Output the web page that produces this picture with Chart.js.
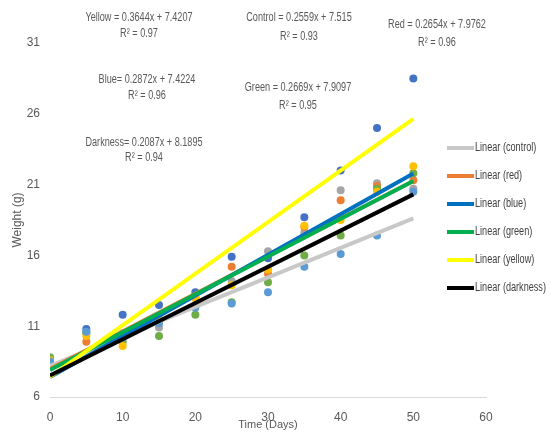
<!DOCTYPE html>
<html>
<head>
<meta charset="utf-8">
<script src="https://cdn.jsdelivr.net/npm/chart.js@4/dist/chart.umd.min.js"></script>
<style>
  html, body { margin: 0; padding: 0; background: #fff; }
  #wrap { width: 553px; height: 432px; }
</style>
</head>
<body>
<div id="wrap"><canvas id="chart" width="553" height="432"></canvas></div>
<script>
const days = [0, 5, 10, 15, 20, 25, 30, 35, 40, 45, 50];

const seriesNames = ['control', 'red', 'blue', 'green', 'yellow', 'darkness'];

const controlW  = [8.7, 10.6, 10.5, 10.9, 13.1, 14.2, 16.3, 17.6, 20.6, 21.1, 20.7];
const redW      = [8.5, 9.9, 10.2, 11.5, 13.0, 15.2, 14.7, 18.0, 19.9, 20.9, 21.3];
const blueW     = [8.6, 10.8, 11.8, 12.5, 13.4, 15.9, 15.8, 18.7, 22.0, 25.0, 28.5];
const greenW    = [8.8, 10.5, 9.9, 10.3, 11.8, 12.7, 14.1, 16.0, 17.4, 20.7, 21.8];
const yellowW   = [8.6, 10.3, 9.6, 11.4, 13.0, 13.9, 15.0, 18.1, 18.5, 20.5, 22.3];
const darknessW = [8.5, 10.6, 10.2, 11.2, 12.3, 12.6, 13.4, 15.2, 16.1, 17.4, 20.5];

// trendline values at day 0 and day 50, as drawn
const trendStart = [8.19, 7.98, 7.42, 7.91, 7.42, 7.52];
const trendEnd   = [18.62, 21.25, 21.78, 21.25, 25.64, 20.31];

const equations = [
  ['Yellow = 0.3644x + 7.4207', 'R\u00b2 = 0.97'],
  ['Control = 0.2559x + 7.515', 'R\u00b2 = 0.93'],
  ['Red = 0.2654x + 7.9762', 'R\u00b2 = 0.96'],
  ['Blue= 0.2872x + 7.4224', 'R\u00b2 = 0.96'],
  ['Green = 0.2669x + 7.9097', 'R\u00b2 = 0.95'],
  ['Darkness= 0.2087x + 8.1895', 'R\u00b2 = 0.94']
];

const pointColors = ['#A5A5A5', '#ED7D31', '#4472C4', '#70AD47', '#FFC000', '#5B9BD5'];
const lineColors  = ['#C8C8C8', '#ED7D31', '#0070C0', '#00B050', '#FFFF00', '#000000'];

const FONT = '"Liberation Sans", Arial, sans-serif';
const TEXT = '#595959';

const weights = [controlW, redW, blueW, greenW, yellowW, darknessW];

const datasets = [];
weights.forEach((w, i) => {
  datasets.push({
    type: 'scatter',
    label: seriesNames[i],
    data: days.map((d, j) => ({ x: d, y: w[j] })),
    backgroundColor: pointColors[i],
    borderWidth: 0,
    pointRadius: 4,
    order: 20 - i
  });
});
seriesNames.forEach((name, i) => {
  datasets.push({
    type: 'line',
    label: 'Linear (' + name + ')',
    data: [{ x: days[0], y: trendStart[i] }, { x: days[days.length - 1], y: trendEnd[i] }],
    borderColor: lineColors[i],
    borderWidth: 4,
    pointRadius: 0,
    fill: false,
    order: 6 - i,
    isTrend: true
  });
});

// narrow text, like the Calibri of the original
function narrowText(ctx, text, x, y) {
  ctx.save();
  ctx.translate(x, y);
  ctx.scale(0.76, 1);
  ctx.fillText(text, 0, 0);
  ctx.restore();
}

// equation labels and right-hand legend drawn over the canvas
const overlay = {
  id: 'overlay',
  afterDraw(chart) {
    const ctx = chart.ctx;
    ctx.save();
    ctx.fillStyle = TEXT;
    ctx.font = '12px ' + FONT;
    ctx.textAlign = 'center';
    ctx.textBaseline = 'middle';
    const spots = [[139, 18, 34], [299, 18, 37], [437, 25, 43], [147, 80, 96], [298, 88, 106], [144, 143, 158]];
    equations.forEach((eq, i) => {
      const s = spots[i];
      narrowText(ctx, eq[0], s[0], s[1]);
      narrowText(ctx, eq[1], s[0], s[2]);
    });

    const trends = chart.data.datasets.filter(d => d.isTrend);
    ctx.textAlign = 'left';
    trends.forEach((d, i) => {
      const y = 148 + i * 28;
      ctx.strokeStyle = d.borderColor;
      ctx.lineWidth = 4;
      ctx.beginPath();
      ctx.moveTo(447, y);
      ctx.lineTo(474, y);
      ctx.stroke();
      ctx.fillStyle = '#404040';
      narrowText(ctx, d.label, 475, y);
    });
    ctx.restore();
  }
};

new Chart(document.getElementById('chart'), {
  type: 'scatter',
  data: { datasets },
  options: {
    responsive: false,
    animation: false,
    layout: { padding: { left: 8, right: 67, top: 43, bottom: 0 } },
    plugins: {
      legend: { display: false },
      tooltip: { enabled: false }
    },
    scales: {
      x: {
        type: 'linear',
        min: 0,
        max: 60,
        ticks: { stepSize: 10, color: TEXT, font: { family: FONT, size: 12 }, padding: 5 },
        grid: { display: false },
        border: { display: true, color: '#D9D9D9', width: 1 },
        title: { display: true, text: 'Time (Days)', color: TEXT, font: { family: FONT, size: 11 }, padding: 0 },
        afterFit: (scale) => { scale.height = 35; }
      },
      y: {
        min: 6,
        max: 31,
        ticks: { stepSize: 5, color: TEXT, font: { family: FONT, size: 12 }, padding: 10 },
        grid: { display: false, drawTicks: false },
        border: { display: false },
        title: { display: true, text: 'Weight (g)', color: TEXT, font: { family: FONT, size: 12 }, padding: 2 },
        afterFit: (scale) => { scale.width = 42; }
      }
    }
  },
  plugins: [overlay]
});
</script>
</body>
</html>
